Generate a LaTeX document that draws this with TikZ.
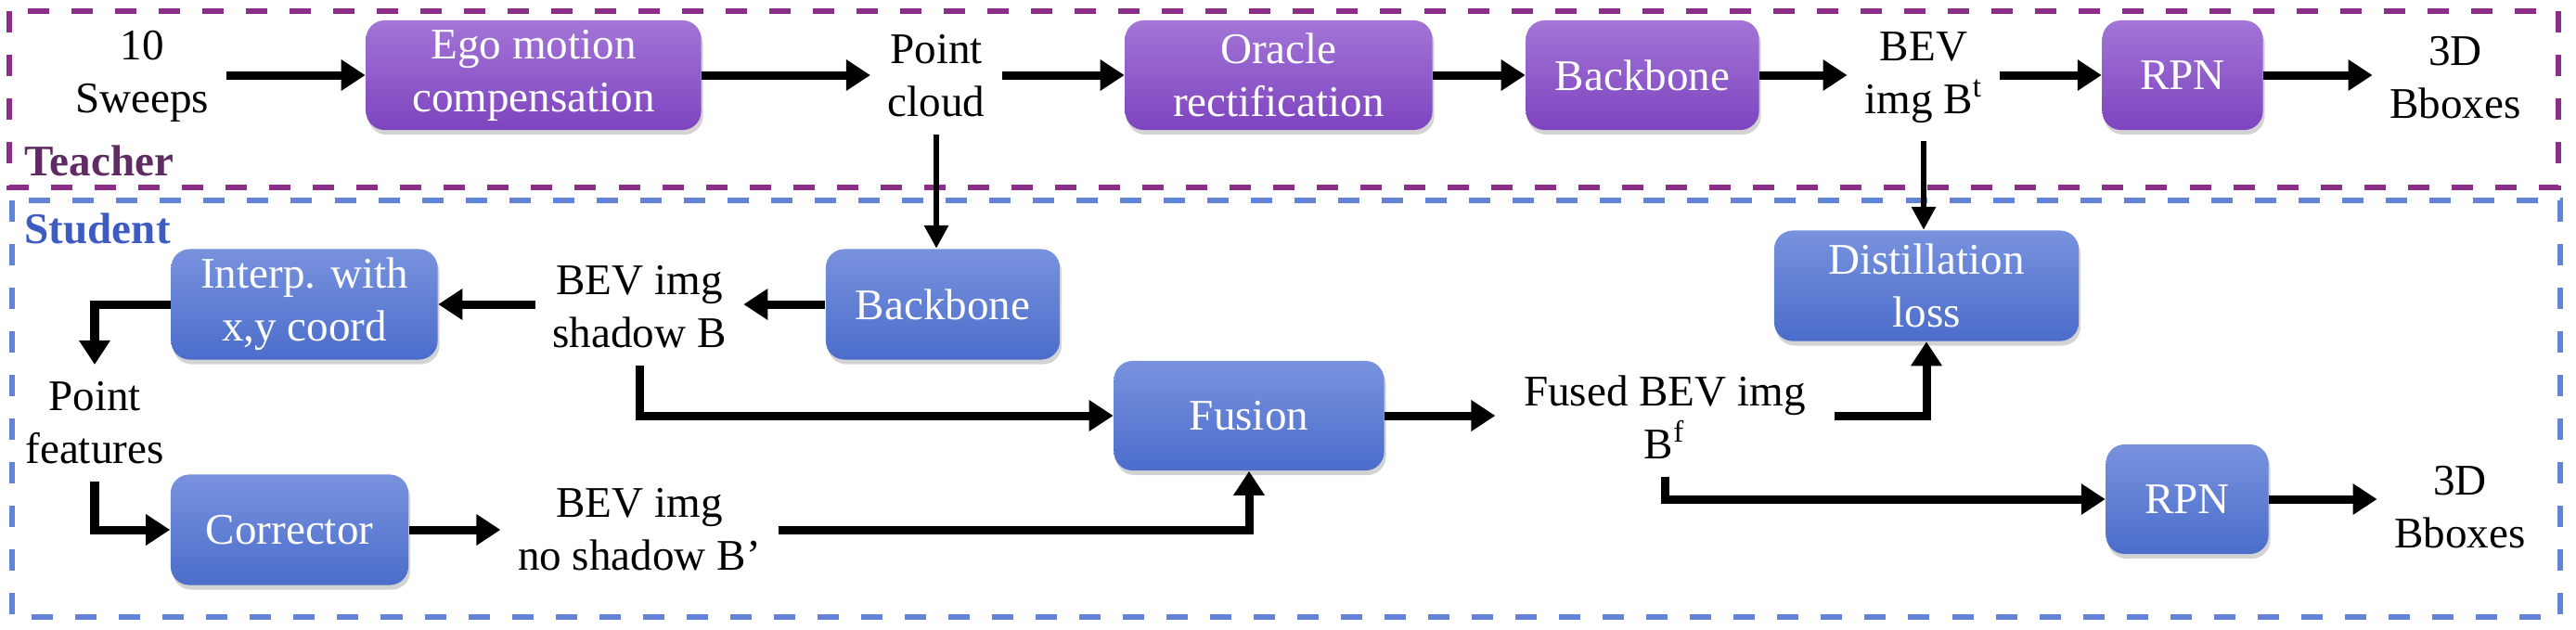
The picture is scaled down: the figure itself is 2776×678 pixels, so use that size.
\documentclass[tikz,border=0pt]{standalone}
\usepackage{fontspec}
\setmainfont{Liberation Serif}
\usetikzlibrary{arrows.meta,shadows,calc}
\definecolor{tpurple}{HTML}{8A2E8A}
\definecolor{sblue}{HTML}{6383D6}
\definecolor{ptop}{HTML}{A275D6}
\definecolor{pbot}{HTML}{7E44BF}
\definecolor{btop}{HTML}{7892DD}
\definecolor{bbot}{HTML}{4B6DCB}
\definecolor{tlabel}{HTML}{5E2B62}
\definecolor{slabel}{HTML}{3E5BC2}
\begin{document}
\begin{tikzpicture}[x=0.01cm,y=-0.01cm,
  every node/.style={font=\fontsize{13.4}{16.2}\selectfont},
  txt/.style={align=center, inner sep=0.18cm},
  boxbase/.style={rounded corners=0.2cm, align=center, text=white, minimum height=1.18cm, inner sep=0pt,
    drop shadow={opacity=0.35, shadow xshift=0.02cm, shadow yshift=-0.05cm}},
  pbox/.style={boxbase, top color=ptop, bottom color=pbot},
  bbox/.style={boxbase, top color=btop, bottom color=bbot},
  arr/.style={line width=0.09cm, -{Triangle[length=0.26cm,width=0.32cm]}},
  varr/.style={line width=0.065cm, -{Triangle[length=0.25cm,width=0.25cm]}},
  frame/.style={line width=0.06cm, dash pattern=on 0.23cm off 0.24cm},
  lbl/.style={anchor=west, inner sep=0pt, font=\fontsize{13.4}{16.2}\selectfont\bfseries},
]
\useasboundingbox (0,0) rectangle (2776,678);

% frames
\draw[frame, tpurple] (10,12) rectangle (2757,202);
\draw[frame, sblue] (13,216) rectangle (2759,665);
\node[lbl, text=tlabel] (tlab) at (26,173) {Teacher};
\node[lbl, text=slabel] (slab) at (26,246) {Student};

% teacher row
\node[txt] (sweeps) at (153,82) {10\\Sweeps};
\node[pbox, minimum width=3.61cm] (ego) at (575,81) {Ego motion\\compensation};
\node[txt] (pc) at (1009,82) {Point\\cloud};
\node[pbox, minimum width=3.31cm] (oracle) at (1378,81) {Oracle\\rectification};
\node[pbox, minimum width=2.51cm] (tbb) at (1770,81) {Backbone};
\node[txt] (bevt) at (2073,84) {BEV\\img B\textsuperscript{t}};
\node[pbox, minimum width=1.73cm] (trpn) at (2352,81) {RPN};
\node[txt] (tbox) at (2646,84) {3D\\Bboxes};

% student
\node[bbox, minimum width=2.52cm, minimum height=1.19cm] (sbb) at (1016,328) {Backbone};
\node[txt] (shadowB) at (689,331) {BEV img\\shadow B};
\node[bbox, minimum width=2.87cm, minimum height=1.19cm] (interp) at (328,328) {Interp. with\\x,y coord};
\node[txt] (pf) at (102,456) {Point\\features};
\node[bbox, minimum width=2.56cm, minimum height=1.19cm] (corr) at (312,571) {Corrector};
\node[txt] (noshadow) at (689,571) {BEV img\\no shadow B’};
\node[bbox, minimum width=2.91cm] (fusion) at (1346,448) {Fusion};
\node[txt, inner xsep=0.3cm] (fused) at (1794,450) {Fused BEV img\\B\textsuperscript{f}};
\node[bbox, minimum width=3.28cm, minimum height=1.19cm] (distill) at (2076,308) {Distillation\\loss};
\node[bbox, minimum width=1.75cm] (srpn) at (2357,538) {RPN};
\node[txt] (sbox) at (2651,547) {3D\\Bboxes};

% teacher connectors
\draw[arr] (sweeps.east |- ego.west) -- (ego.west);
\draw[arr] (ego.east) -- (ego.east -| pc.west);
\draw[arr] (pc.east |- oracle.west) -- (oracle.west);
\draw[arr] (oracle) -- (tbb);
\draw[arr] (tbb.east) -- (tbb.east -| bevt.west);
\draw[arr] (bevt.east |- trpn.west) -- (trpn.west);
\draw[arr] (trpn.east) -- (trpn.east -| tbox.west);

% cross connectors
\draw[varr] (pc.south) -- (pc.south |- sbb.north);
\draw[varr] (bevt.south) -- (bevt.south |- distill.north);

% student connectors
\draw[arr] (sbb.west) -- (sbb.west -| shadowB.east);
\draw[arr] (shadowB.west |- interp.east) -- (interp.east);
\draw[arr] (interp.west) -| (pf.north);
\draw[arr] (pf.south) |- (corr.west);
\draw[arr] (corr.east) -- (corr.east -| noshadow.west);
\draw[arr] (noshadow.east) -| (fusion.south);
\draw[arr] (shadowB.south) |- (fusion.west);
\draw[arr] (fusion.east) -- (fusion.east -| fused.west);
\draw[arr] (fused.east |- fusion.east) -| (distill.south);
\draw[arr] (fused.south) |- (srpn.west);
\draw[arr] (srpn.east) -- (srpn.east -| sbox.west);
\end{tikzpicture}
\end{document}
